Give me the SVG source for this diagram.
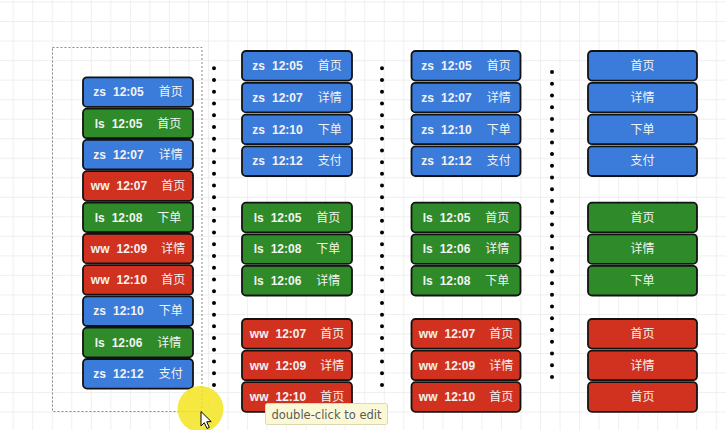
<svg xmlns="http://www.w3.org/2000/svg" width="726" height="430" viewBox="0 0 726 430">
<defs>
<pattern id="grid" patternUnits="userSpaceOnUse" x="12.7" y="1.5" width="19.53" height="19.53">
<path d="M0 0.5H19.53M0.5 0V19.53" fill="none" stroke="#efefef" stroke-width="1"/>
</pattern>
</defs>
<style>
.box{stroke:#121212;stroke-width:1.8}
.zs{fill:#3b7bd9}
.ls{fill:#2f8a29}
.ww{fill:#d1321f}
.t{fill:#f3f3f3;font-size:12px;text-anchor:middle}
.b{font-family:"Liberation Sans",Arial,sans-serif;font-weight:bold}
.c{font-family:"Noto Sans CJK SC",sans-serif;font-weight:normal}
.dots{stroke:#000;stroke-width:4;stroke-linecap:round;stroke-dasharray:0 11.73;fill:none}
</style>
<rect width="726" height="430" fill="#fff"/>
<rect width="726" height="430" fill="url(#grid)"/>

<g id="selection">
<rect x="52.5" y="47.5" width="149.5" height="364" fill="none" stroke="#8a8a8a" stroke-width="1" stroke-dasharray="2 2"/>
</g>

<g id="connectors">
<line class="dots" x1="214" y1="68.3" x2="214" y2="386"/>
<line class="dots" x1="382" y1="68.3" x2="382" y2="386"/>
<line class="dots" x1="552" y1="72" x2="552" y2="386"/>
</g>

<g id="col1">
<g id="c1r0"><rect class="box zs" x="83" y="77.3" width="110" height="29.6" rx="4"/><text class="t" x="138" y="96.3"><tspan class="b">zs</tspan><tspan class="b" dx="7">12:05</tspan><tspan class="c" dx="15">首页</tspan></text></g>
<g id="c1r1"><rect class="box ls" x="83" y="108.6" width="110" height="29.6" rx="4"/><text class="t" x="138" y="127.6"><tspan class="b">ls</tspan><tspan class="b" dx="7">12:05</tspan><tspan class="c" dx="15">首页</tspan></text></g>
<g id="c1r2"><rect class="box zs" x="83" y="139.9" width="110" height="29.6" rx="4"/><text class="t" x="138" y="158.9"><tspan class="b">zs</tspan><tspan class="b" dx="7">12:07</tspan><tspan class="c" dx="15">详情</tspan></text></g>
<g id="c1r3"><rect class="box ww" x="83" y="171.2" width="110" height="29.6" rx="4"/><text class="t" x="138" y="190.2"><tspan class="b">ww</tspan><tspan class="b" dx="7">12:07</tspan><tspan class="c" dx="14">首页</tspan></text></g>
<g id="c1r4"><rect class="box ls" x="83" y="202.5" width="110" height="29.6" rx="4"/><text class="t" x="138" y="221.5"><tspan class="b">ls</tspan><tspan class="b" dx="7">12:08</tspan><tspan class="c" dx="15">下单</tspan></text></g>
<g id="c1r5"><rect class="box ww" x="83" y="233.8" width="110" height="29.6" rx="4"/><text class="t" x="138" y="252.8"><tspan class="b">ww</tspan><tspan class="b" dx="7">12:09</tspan><tspan class="c" dx="14">详情</tspan></text></g>
<g id="c1r6"><rect class="box ww" x="83" y="265.1" width="110" height="29.6" rx="4"/><text class="t" x="138" y="284.1"><tspan class="b">ww</tspan><tspan class="b" dx="7">12:10</tspan><tspan class="c" dx="14">首页</tspan></text></g>
<g id="c1r7"><rect class="box zs" x="83" y="296.4" width="110" height="29.6" rx="4"/><text class="t" x="138" y="315.4"><tspan class="b">zs</tspan><tspan class="b" dx="7">12:10</tspan><tspan class="c" dx="15">下单</tspan></text></g>
<g id="c1r8"><rect class="box ls" x="83" y="327.7" width="110" height="29.6" rx="4"/><text class="t" x="138" y="346.7"><tspan class="b">ls</tspan><tspan class="b" dx="7">12:06</tspan><tspan class="c" dx="15">详情</tspan></text></g>
<g id="c1r9"><rect class="box zs" x="83" y="359" width="110" height="29.6" rx="4"/><text class="t" x="138" y="378"><tspan class="b">zs</tspan><tspan class="b" dx="7">12:12</tspan><tspan class="c" dx="15">支付</tspan></text></g>
</g>

<g id="col2">
<g id="c2r0"><rect class="box zs" x="242" y="51" width="110" height="29.6" rx="4"/><text class="t" x="297" y="70"><tspan class="b">zs</tspan><tspan class="b" dx="7">12:05</tspan><tspan class="c" dx="15">首页</tspan></text></g>
<g id="c2r1"><rect class="box zs" x="242" y="82.8" width="110" height="29.6" rx="4"/><text class="t" x="297" y="101.8"><tspan class="b">zs</tspan><tspan class="b" dx="7">12:07</tspan><tspan class="c" dx="15">详情</tspan></text></g>
<g id="c2r2"><rect class="box zs" x="242" y="114.6" width="110" height="29.6" rx="4"/><text class="t" x="297" y="133.6"><tspan class="b">zs</tspan><tspan class="b" dx="7">12:10</tspan><tspan class="c" dx="15">下单</tspan></text></g>
<g id="c2r3"><rect class="box zs" x="242" y="146.4" width="110" height="29.6" rx="4"/><text class="t" x="297" y="165.4"><tspan class="b">zs</tspan><tspan class="b" dx="7">12:12</tspan><tspan class="c" dx="15">支付</tspan></text></g>
<g id="c2r4"><rect class="box ls" x="242" y="202.7" width="110" height="29.6" rx="4"/><text class="t" x="297" y="221.7"><tspan class="b">ls</tspan><tspan class="b" dx="7">12:05</tspan><tspan class="c" dx="15">首页</tspan></text></g>
<g id="c2r5"><rect class="box ls" x="242" y="234.3" width="110" height="29.6" rx="4"/><text class="t" x="297" y="253.3"><tspan class="b">ls</tspan><tspan class="b" dx="7">12:08</tspan><tspan class="c" dx="15">下单</tspan></text></g>
<g id="c2r6"><rect class="box ls" x="242" y="265.9" width="110" height="29.6" rx="4"/><text class="t" x="297" y="284.9"><tspan class="b">ls</tspan><tspan class="b" dx="7">12:06</tspan><tspan class="c" dx="15">详情</tspan></text></g>
<g id="c2r7"><rect class="box ww" x="242" y="319" width="110" height="29.6" rx="4"/><text class="t" x="297" y="338"><tspan class="b">ww</tspan><tspan class="b" dx="7">12:07</tspan><tspan class="c" dx="14">首页</tspan></text></g>
<g id="c2r8"><rect class="box ww" x="242" y="350.6" width="110" height="29.6" rx="4"/><text class="t" x="297" y="369.6"><tspan class="b">ww</tspan><tspan class="b" dx="7">12:09</tspan><tspan class="c" dx="14">详情</tspan></text></g>
<g id="c2r9"><rect class="box ww" x="242" y="382.2" width="110" height="29.6" rx="4"/><text class="t" x="297" y="401.2"><tspan class="b">ww</tspan><tspan class="b" dx="7">12:10</tspan><tspan class="c" dx="14">首页</tspan></text></g>
</g>

<g id="col3">
<g id="c3r0"><rect class="box zs" x="411.5" y="51" width="109" height="29.6" rx="4"/><text class="t" x="466" y="70"><tspan class="b">zs</tspan><tspan class="b" dx="7">12:05</tspan><tspan class="c" dx="15">首页</tspan></text></g>
<g id="c3r1"><rect class="box zs" x="411.5" y="82.8" width="109" height="29.6" rx="4"/><text class="t" x="466" y="101.8"><tspan class="b">zs</tspan><tspan class="b" dx="7">12:07</tspan><tspan class="c" dx="15">详情</tspan></text></g>
<g id="c3r2"><rect class="box zs" x="411.5" y="114.6" width="109" height="29.6" rx="4"/><text class="t" x="466" y="133.6"><tspan class="b">zs</tspan><tspan class="b" dx="7">12:10</tspan><tspan class="c" dx="15">下单</tspan></text></g>
<g id="c3r3"><rect class="box zs" x="411.5" y="146.4" width="109" height="29.6" rx="4"/><text class="t" x="466" y="165.4"><tspan class="b">zs</tspan><tspan class="b" dx="7">12:12</tspan><tspan class="c" dx="15">支付</tspan></text></g>
<g id="c3r4"><rect class="box ls" x="411.5" y="202.7" width="109" height="29.6" rx="4"/><text class="t" x="466" y="221.7"><tspan class="b">ls</tspan><tspan class="b" dx="7">12:05</tspan><tspan class="c" dx="15">首页</tspan></text></g>
<g id="c3r5"><rect class="box ls" x="411.5" y="234.3" width="109" height="29.6" rx="4"/><text class="t" x="466" y="253.3"><tspan class="b">ls</tspan><tspan class="b" dx="7">12:06</tspan><tspan class="c" dx="15">详情</tspan></text></g>
<g id="c3r6"><rect class="box ls" x="411.5" y="265.9" width="109" height="29.6" rx="4"/><text class="t" x="466" y="284.9"><tspan class="b">ls</tspan><tspan class="b" dx="7">12:08</tspan><tspan class="c" dx="15">下单</tspan></text></g>
<g id="c3r7"><rect class="box ww" x="411.5" y="319" width="109" height="29.6" rx="4"/><text class="t" x="466" y="338"><tspan class="b">ww</tspan><tspan class="b" dx="7">12:07</tspan><tspan class="c" dx="14">首页</tspan></text></g>
<g id="c3r8"><rect class="box ww" x="411.5" y="350.6" width="109" height="29.6" rx="4"/><text class="t" x="466" y="369.6"><tspan class="b">ww</tspan><tspan class="b" dx="7">12:09</tspan><tspan class="c" dx="14">详情</tspan></text></g>
<g id="c3r9"><rect class="box ww" x="411.5" y="382.2" width="109" height="29.6" rx="4"/><text class="t" x="466" y="401.2"><tspan class="b">ww</tspan><tspan class="b" dx="7">12:10</tspan><tspan class="c" dx="14">首页</tspan></text></g>
</g>

<g id="col4">
<g id="c4r0"><rect class="box zs" x="588" y="51" width="109" height="29.6" rx="4"/><text class="t c" x="642.5" y="70">首页</text></g>
<g id="c4r1"><rect class="box zs" x="588" y="82.8" width="109" height="29.6" rx="4"/><text class="t c" x="642.5" y="101.8">详情</text></g>
<g id="c4r2"><rect class="box zs" x="588" y="114.6" width="109" height="29.6" rx="4"/><text class="t c" x="642.5" y="133.6">下单</text></g>
<g id="c4r3"><rect class="box zs" x="588" y="146.4" width="109" height="29.6" rx="4"/><text class="t c" x="642.5" y="165.4">支付</text></g>
<g id="c4r4"><rect class="box ls" x="588" y="202.7" width="109" height="29.6" rx="4"/><text class="t c" x="642.5" y="221.7">首页</text></g>
<g id="c4r5"><rect class="box ls" x="588" y="234.3" width="109" height="29.6" rx="4"/><text class="t c" x="642.5" y="253.3">详情</text></g>
<g id="c4r6"><rect class="box ls" x="588" y="265.9" width="109" height="29.6" rx="4"/><text class="t c" x="642.5" y="284.9">下单</text></g>
<g id="c4r7"><rect class="box ww" x="588" y="319" width="109" height="29.6" rx="4"/><text class="t c" x="642.5" y="338">首页</text></g>
<g id="c4r8"><rect class="box ww" x="588" y="350.6" width="109" height="29.6" rx="4"/><text class="t c" x="642.5" y="369.6">详情</text></g>
<g id="c4r9"><rect class="box ww" x="588" y="382.2" width="109" height="29.6" rx="4"/><text class="t c" x="642.5" y="401.2">首页</text></g>
</g>

<g id="tooltip">
<rect x="265.5" y="403.5" width="122" height="21" rx="2" fill="#fbf8d6" stroke="#dcd8b4" stroke-width="1"/>
<text x="271.5" y="418.5" font-family="DejaVu Sans, sans-serif" font-size="11.5" fill="#5a5a5a">double-click to edit</text>
</g>

<g id="cursor">
<circle cx="200.5" cy="409" r="23" fill="#f3e41e" opacity="0.85"/>
<path d="M201 411.5 L201 426 L204.3 422.7 L207 428.5 L209.3 427.4 L206.7 421.8 L211.2 421.6 Z" fill="#fff" stroke="#000" stroke-width="1" stroke-linejoin="round"/>
</g>
</svg>
